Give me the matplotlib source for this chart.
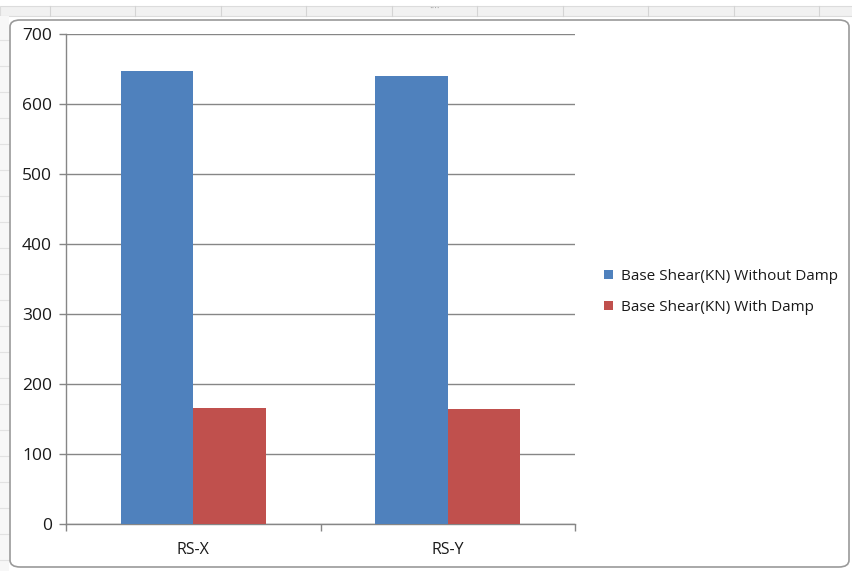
import matplotlib
matplotlib.use("Agg")
import matplotlib.pyplot as plt
import numpy as np
from matplotlib.patches import FancyBboxPatch, Rectangle

# base shear per response-spectrum direction
directions = ["RS-X", "RS-Y"]
shear_without_damp = [647, 640]
shear_with_damp = [166, 164]
series_labels = ["Base Shear(KN) Without Damp", "Base Shear(KN) With Damp"]

BLUE = "#4f81bd"
RED = "#c0504d"
GRID = "#868686"

plt.rcParams["font.family"] = ["Open Sans", "DejaVu Sans"]

fig = plt.figure(figsize=(8.53, 5.71), dpi=100)
fig.patch.set_facecolor("white")

# worksheet cells peeking out around the chart object
fig.patches.append(Rectangle((0, 1 - 16 / 571), 1, 10 / 571, transform=fig.transFigure,
                             facecolor="#f1f1f1", edgecolor="#dcdcdc", lw=0.8, zorder=-2))
fig.patches.append(Rectangle((0, 0), 9 / 853, 1 - 16 / 571, transform=fig.transFigure,
                             facecolor="#f7f7f7", edgecolor="none", zorder=-2))
for px in np.arange(50, 853, 85.5):
    fig.add_artist(plt.Line2D([px / 853] * 2, [1 - 16 / 571, 1 - 6 / 571],
                              transform=fig.transFigure, color="#d4d4d4", lw=0.8, zorder=-1))
for py in np.arange(40, 571, 26):
    fig.add_artist(plt.Line2D([0, 9 / 853], [1 - py / 571] * 2,
                              transform=fig.transFigure, color="#e2e2e2", lw=0.8, zorder=-1))
fig.text(435 / 853, 1 - 9 / 571, "····", ha="center", va="center", color="#a0a0a0", fontsize=7)

# chart area frame
fig.patches.append(FancyBboxPatch((10 / 853, 4 / 571), 839 / 853, 547 / 571,
                                  boxstyle="round,pad=0,rounding_size=0.012",
                                  transform=fig.transFigure, facecolor="white",
                                  edgecolor="#9a9a9a", lw=1.2, zorder=-0.5))

ax = fig.add_axes([66 / 853, 1 - 524 / 571, 509 / 853, 490 / 571])
ax.set_facecolor("none")
ax.set_zorder(2)

x = np.arange(len(directions))
w = 0.285
ax.bar(x - w / 2, shear_without_damp, w, color=BLUE, label=series_labels[0], zorder=3)
ax.bar(x + w / 2, shear_with_damp, w, color=RED, label=series_labels[1], zorder=3)

ax.set_xlim(-0.5, len(directions) - 0.5)
ax.set_ylim(0, 700)
ax.set_yticks(np.arange(0, 701, 100))
ax.yaxis.grid(True, color=GRID, lw=1)
ax.set_axisbelow(True)

# category labels sit between boundary tick marks
ax.set_xticks(np.arange(-0.5, len(directions), 1.0))
ax.set_xticklabels([])
ax.set_xticks(x, minor=True)
ax.set_xticklabels(directions, minor=True)
ax.tick_params(axis="x", which="major", length=5, color=GRID, width=1)
ax.tick_params(axis="x", which="minor", length=0, pad=13, labelsize=11.5, labelcolor="#1a1a1a")
ax.tick_params(axis="y", length=5, color=GRID, width=1, labelsize=12.5, labelcolor="#1a1a1a", pad=5)

for s in ["top", "right"]:
    ax.spines[s].set_visible(False)
for s in ["left", "bottom"]:
    ax.spines[s].set_color(GRID)
    ax.spines[s].set_linewidth(1)

fig.legend(loc="center left", bbox_to_anchor=(590 / 853, 1 - 292 / 571), frameon=False,
           fontsize=11, handlelength=0.6, handleheight=0.6, handletextpad=0.5,
           labelspacing=1.05, labelcolor="#1a1a1a")

fig.savefig("out.png", dpi=100)
